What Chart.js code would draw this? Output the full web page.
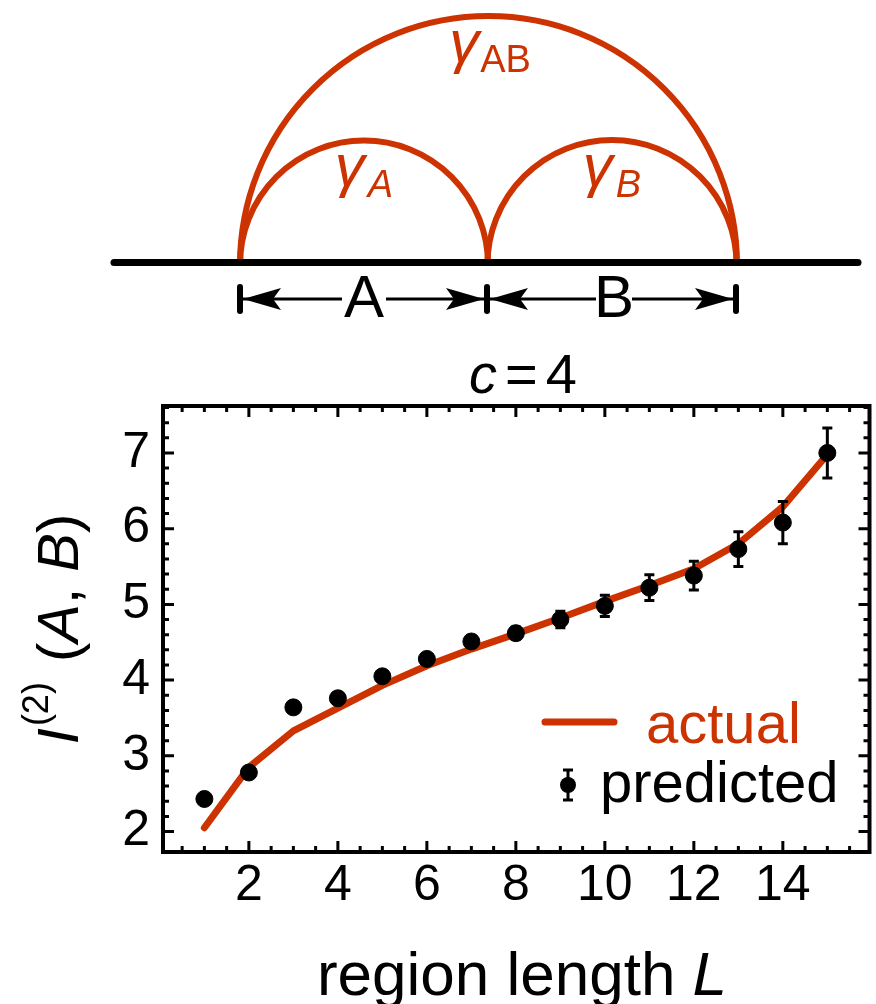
<!DOCTYPE html>
<html lang="en">
<head>
<meta charset="UTF-8">
<title>I2 vs region length</title>
<script src="https://cdn.jsdelivr.net/npm/chart.js"></script>
<style>
    html, body { margin: 0; padding: 0; background: #fff; overflow: hidden; }
    .wrap { width: 876px; height: 1004px; }
</style>
</head>
<body>
<div class="wrap"><canvas id="grafico"></canvas></div>

<script>
    // data
    const regionL = [1, 2, 3, 4, 5, 6, 7, 8, 9, 10, 11, 12, 13, 14, 15];
    const actual = [2.05, 2.85, 3.33, 3.63, 3.93, 4.19, 4.41, 4.61, 4.82, 5.04, 5.25, 5.47, 5.80, 6.29, 6.98];
    const predicted = [2.43, 2.78, 3.64, 3.76, 4.05, 4.28, 4.51, 4.62, 4.80, 4.98, 5.22, 5.38, 5.73, 6.08, 7.00];
    const predictedErr = [0.03, 0.04, 0.04, 0.07, 0.05, 0.06, 0.08, 0.08, 0.11, 0.14, 0.17, 0.19, 0.23, 0.28, 0.33];
    const xTicks = [2, 4, 6, 8, 10, 12, 14];
    const yTicks = [2, 3, 4, 5, 6, 7];

    const laranja = '#cc3300';
    const fonte = 'Liberation Sans, Arial, Helvetica, sans-serif';

    // draws a row of text pieces with different fonts, centred on x
    function textoMisto(ctx, partes, x, y) {
        let total = 0;
        partes.forEach(p => { ctx.font = p.font; p.w = ctx.measureText(p.t).width; total += p.w + (p.gap || 0); });
        let cx = x - total / 2;
        partes.forEach(p => {
            ctx.font = p.font;
            ctx.fillStyle = p.color || '#000';
            ctx.fillText(p.t, cx, y - (p.dy || 0));
            cx += p.w + (p.gap || 0);
        });
    }

    function seta(ctx, xTip, y, dir) {
        ctx.beginPath();
        ctx.moveTo(xTip, y);
        ctx.lineTo(xTip + dir * 38, y - 11);
        ctx.lineTo(xTip + dir * 30, y);
        ctx.lineTo(xTip + dir * 38, y + 11);
        ctx.closePath();
        ctx.fill();
    }

    // the arcs diagram above the plot
    const diagrama = {
        id: 'diagrama',
        afterDraw(chart) {
            const ctx = chart.ctx;
            ctx.save();
            const base = 262.5;
            ctx.strokeStyle = laranja;
            ctx.lineWidth = 6;
            [[488.5, 248.5], [364, 124], [612, 124.5]].forEach(([cx, r]) => {
                ctx.beginPath();
                ctx.arc(cx, base + 2, r, Math.PI, 2 * Math.PI);
                ctx.stroke();
            });
            ctx.strokeStyle = '#000';
            ctx.lineWidth = 7;
            ctx.lineCap = 'round';
            ctx.beginPath();
            ctx.moveTo(114, base);
            ctx.lineTo(858, base);
            ctx.stroke();

            // dimension arrows
            const yd = 299;
            ctx.lineWidth = 6;
            [240, 487, 736].forEach(x => {
                ctx.beginPath();
                ctx.moveTo(x, 287);
                ctx.lineTo(x, 311);
                ctx.stroke();
            });
            ctx.lineWidth = 3;
            ctx.lineCap = 'butt';
            [[243, 342], [386, 484], [490, 596], [632, 733]].forEach(([a, b]) => {
                ctx.beginPath();
                ctx.moveTo(a, yd);
                ctx.lineTo(b, yd);
                ctx.stroke();
            });
            ctx.fillStyle = '#000';
            seta(ctx, 243, yd, 1);
            seta(ctx, 484, yd, -1);
            seta(ctx, 490, yd, 1);
            seta(ctx, 733, yd, -1);
            ctx.textAlign = 'left';
            ctx.textBaseline = 'alphabetic';
            textoMisto(ctx, [{ t: 'A', font: '60px ' + fonte }], 364, 317);
            textoMisto(ctx, [{ t: 'B', font: '60px ' + fonte }], 614, 317);

            // gamma labels
            textoMisto(ctx, [
                { t: 'γ', font: 'italic 60px ' + fonte, color: laranja, dy: 10, gap: 1 },
                { t: 'AB', font: '38px ' + fonte, color: laranja }
            ], 490, 72);
            textoMisto(ctx, [
                { t: 'γ', font: 'italic 60px ' + fonte, color: laranja, dy: 11, gap: 3 },
                { t: 'A', font: 'italic 38px ' + fonte, color: laranja }
            ], 364, 197);
            textoMisto(ctx, [
                { t: 'γ', font: 'italic 60px ' + fonte, color: laranja, dy: 11, gap: 3 },
                { t: 'B', font: 'italic 38px ' + fonte, color: laranja }
            ], 612, 197);

            // c = 4
            textoMisto(ctx, [
                { t: 'c', font: 'italic 56px ' + fonte, gap: 8 },
                { t: '=', font: '56px ' + fonte, gap: 8 },
                { t: '4', font: '56px ' + fonte }
            ], 523, 393);
            ctx.restore();
        }
    };

    // frame with inward ticks on all four sides, axis titles, legend
    const moldura = {
        id: 'moldura',
        afterDatasetsDraw(chart) {
            const ctx = chart.ctx;
            const a = chart.chartArea;
            const xs = chart.scales.x;
            const ys = chart.scales.y;
            ctx.save();

            // error bars of the predicted values
            ctx.strokeStyle = '#000';
            ctx.lineWidth = 3;
            regionL.forEach((L, i) => {
                const px = xs.getPixelForValue(L);
                const top = ys.getPixelForValue(predicted[i] + predictedErr[i]);
                const bot = ys.getPixelForValue(predicted[i] - predictedErr[i]);
                ctx.beginPath();
                ctx.moveTo(px, top); ctx.lineTo(px, bot);
                ctx.moveTo(px - 5, top); ctx.lineTo(px + 5, top);
                ctx.moveTo(px - 5, bot); ctx.lineTo(px + 5, bot);
                ctx.stroke();
            });

            // frame; its right edge falls just outside the picture
            ctx.lineWidth = 4;
            ctx.strokeRect(a.left, a.top, a.right + 3 - a.left, a.bottom - a.top);
            ctx.lineWidth = 3;
            ctx.beginPath();
            for (let v = 0.5; v < xs.max; v += 0.5) {
                const px = xs.getPixelForValue(v);
                if (px <= a.left) continue;
                const len = xTicks.includes(v) ? 11 : 6;
                ctx.moveTo(px, a.bottom); ctx.lineTo(px, a.bottom - len);
                ctx.moveTo(px, a.top); ctx.lineTo(px, a.top + len);
            }
            for (let k = 10; k * 0.2 < ys.max; k++) {
                const v = Math.round(k * 2) / 10;
                const py = ys.getPixelForValue(v);
                const len = Number.isInteger(v) ? 11 : 6;
                ctx.moveTo(a.left, py); ctx.lineTo(a.left + len, py);
                ctx.moveTo(a.right + 3, py); ctx.lineTo(a.right + 3 - len, py);
            }
            ctx.stroke();

            // axis titles
            ctx.textAlign = 'left';
            ctx.textBaseline = 'alphabetic';
            textoMisto(ctx, [
                { t: 'region length ', font: '62px ' + fonte },
                { t: 'L', font: 'italic 62px ' + fonte }
            ], 522, 995);

            ctx.save();
            ctx.translate(78, (a.top + a.bottom) / 2);
            ctx.rotate(-Math.PI / 2);
            textoMisto(ctx, [
                { t: 'I', font: 'italic 58px ' + fonte, gap: 2 },
                { t: '(2)', font: '36px ' + fonte, dy: 30, gap: 4 },
                { t: ' (', font: '58px ' + fonte },
                { t: 'A', font: 'italic 58px ' + fonte },
                { t: ', ', font: '58px ' + fonte },
                { t: 'B', font: 'italic 58px ' + fonte },
                { t: ')', font: '58px ' + fonte }
            ], 0, 0);
            ctx.restore();

            // legend
            ctx.strokeStyle = laranja;
            ctx.lineWidth = 7;
            ctx.lineCap = 'round';
            ctx.beginPath();
            ctx.moveTo(545, 722); ctx.lineTo(614, 722);
            ctx.stroke();
            ctx.font = '58px ' + fonte;
            ctx.fillStyle = laranja;
            ctx.fillText('actual', 646, 743);
            ctx.fillStyle = '#000';
            ctx.fillText('predicted', 600, 802);
            ctx.strokeStyle = '#000';
            ctx.lineWidth = 3;
            ctx.lineCap = 'butt';
            ctx.beginPath();
            ctx.moveTo(568, 770); ctx.lineTo(568, 800);
            ctx.moveTo(563, 770); ctx.lineTo(573, 770);
            ctx.moveTo(563, 800); ctx.lineTo(573, 800);
            ctx.stroke();
            ctx.beginPath();
            ctx.arc(568, 785, 8, 0, 2 * Math.PI);
            ctx.fill();
            ctx.restore();
        }
    };

    const dados = {
        datasets: [{
            label: 'predicted',
            data: regionL.map((L, i) => ({ x: L, y: predicted[i] })),
            backgroundColor: '#000',
            borderColor: '#000',
            pointRadius: 8.5,
            pointHoverRadius: 8.5,
            showLine: false,
            order: 0
        },
        {
            label: 'actual',
            data: regionL.map((L, i) => ({ x: L, y: actual[i] })),
            borderColor: laranja,
            backgroundColor: laranja,
            borderWidth: 7,
            borderCapStyle: 'round',
            borderJoinStyle: 'round',
            pointRadius: 0,
            showLine: true,
            tension: 0,
            order: 1
        }]
    };

    const config = {
        type: 'scatter',
        data: dados,
        options: {
            responsive: true,
            maintainAspectRatio: false,
            animation: false,
            layout: { padding: { top: 406, left: 0, right: 0, bottom: 0 } },
            plugins: {
                legend: { display: false },
                tooltip: { enabled: false },
                title: { display: false }
            },
            scales: {
                x: {
                    type: 'linear',
                    min: 0.07,
                    max: 15.88,
                    grid: { display: false, drawTicks: false },
                    border: { display: false },
                    ticks: { color: '#000', font: { family: fonte, size: 50 }, padding: 4, maxRotation: 0 },
                    afterBuildTicks: s => { s.ticks = xTicks.map(v => ({ value: v })); },
                    afterFit: s => { s.height = 152; s.paddingLeft = 0; s.paddingRight = 0; }
                },
                y: {
                    type: 'linear',
                    min: 1.73,
                    max: 7.62,
                    grid: { display: false, drawTicks: false },
                    border: { display: false },
                    ticks: { color: '#000', font: { family: fonte, size: 50 }, padding: 13 },
                    afterBuildTicks: s => { s.ticks = yTicks.map(v => ({ value: v })); },
                    afterFit: s => { s.width = 163; s.paddingTop = 0; s.paddingBottom = 0; }
                }
            }
        },
        plugins: [diagrama, moldura]
    };

    const grafico = new Chart(document.getElementById('grafico'), config);
</script>
</body>
</html>
